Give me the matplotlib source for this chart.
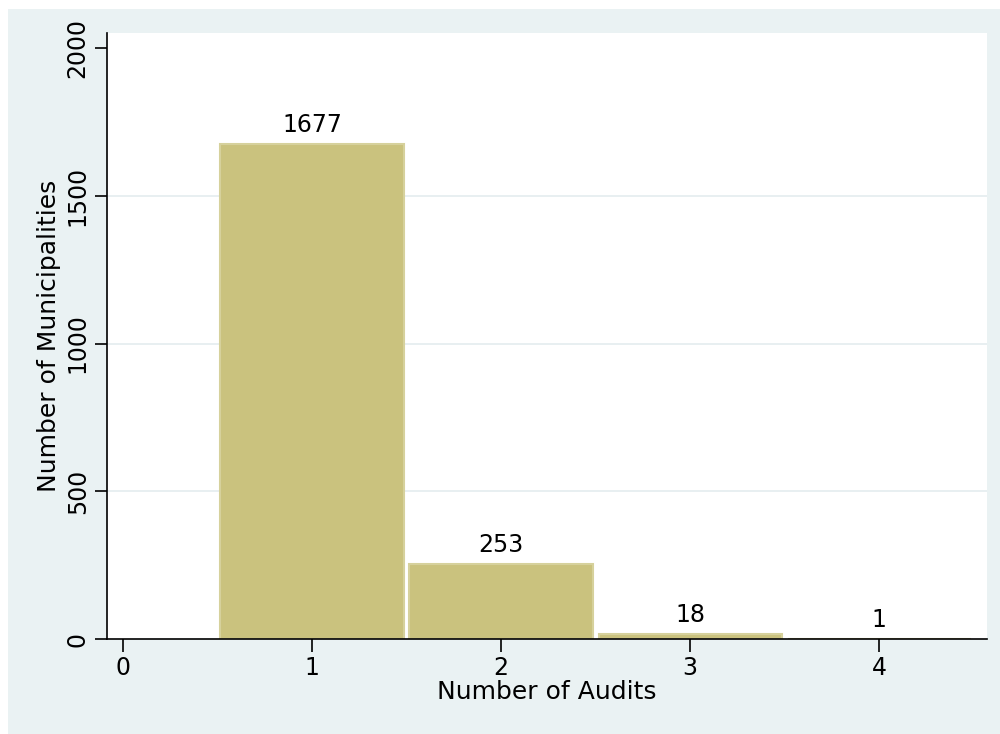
import numpy as np
import matplotlib
matplotlib.use('Agg')
import matplotlib.pyplot as plt
from matplotlib.patches import Rectangle

audits = [1, 2, 3, 4]
municipalities = [1677, 253, 18, 1]
x_ticks = [0, 1, 2, 3, 4]
y_ticks = [0, 500, 1000, 1500, 2000]

bg = '#EAF2F3'
bar_color = '#CAC27E'

fig = plt.figure(figsize=(10, 7.34), dpi=100)
fig.patch.set_facecolor('white')
fig.patches.append(Rectangle((0.008, 0), 0.992, 1 - 9/734, transform=fig.transFigure,
                             facecolor=bg, edgecolor='none', zorder=-10))

ax = fig.add_axes([0.107, 0.1294, 0.880, 0.8256])
ax.set_facecolor('white')

ax.bar(audits, municipalities, width=0.97, color=bar_color, edgecolor='#D6D19C',
       linewidth=1.5, zorder=3)
for a, m in zip(audits, municipalities):
    ax.annotate(str(m), (a, m), xytext=(0, 5), textcoords='offset points',
                ha='center', va='bottom', fontsize=17)

ax.set_xlim(-0.085, 4.57)
ax.set_ylim(0, 2051)
ax.set_xticks(x_ticks)
ax.set_yticks(y_ticks)
ax.set_yticklabels([str(v) for v in y_ticks], rotation=90, va='center')
ax.tick_params(axis='both', labelsize=17, length=9, width=1.2, color='black')
ax.tick_params(axis='x', pad=3)

for v in y_ticks[1:-1]:
    ax.axhline(v, color='#E6EEF0', linewidth=1.3, zorder=1)

for s in ['top', 'right']:
    ax.spines[s].set_visible(False)
for s in ['left', 'bottom']:
    ax.spines[s].set_linewidth(1.2)
ax.spines['bottom'].set_zorder(4)

ax.set_xlabel('Number of Audits', fontsize=18, labelpad=0)
ax.set_ylabel('Number of Municipalities', fontsize=18, labelpad=3)

plt.savefig('out.png', dpi=100, facecolor=fig.get_facecolor())
